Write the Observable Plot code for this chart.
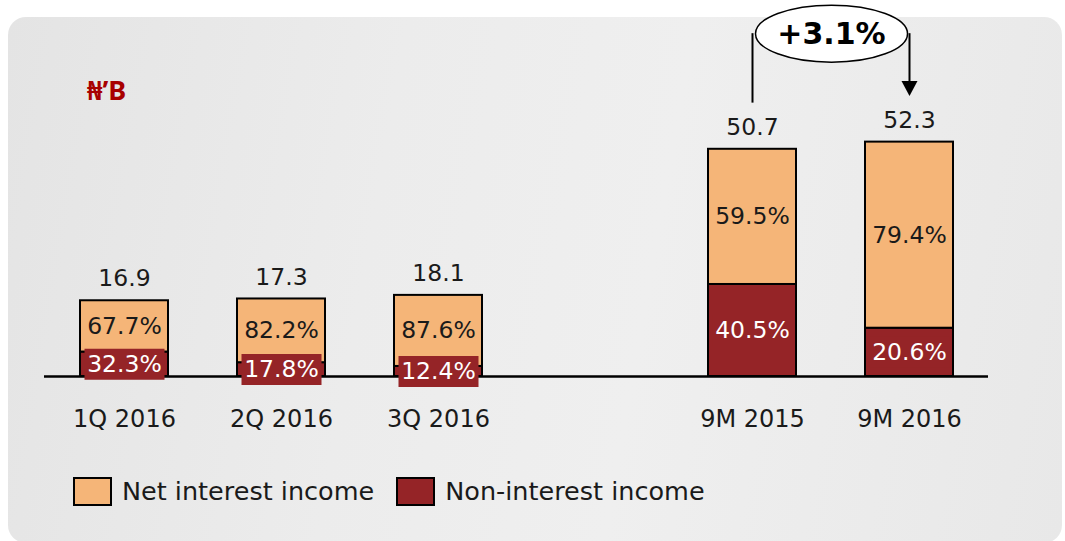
<!DOCTYPE html>
<html>
<head>
<meta charset="utf-8">
<script src="https://cdn.jsdelivr.net/npm/d3@7"></script>
<script src="https://cdn.jsdelivr.net/npm/@observablehq/plot@0.6"></script>
<style>
  html, body { margin: 0; padding: 0; background: #ffffff; }
  #wrap { position: relative; width: 1065px; height: 541px; overflow: hidden; font-family: "DejaVu Sans", sans-serif; }
  #panel { position: absolute; left: 8px; top: 17px; width: 1054px; height: 526px; border-radius: 18px;
           background: linear-gradient(100deg, #e4e4e4 0%, #ececec 35%, #efefef 60%, #e8e8e8 100%); }
  #unit { position: absolute; left: 87px; top: 76px; font-family: "Noto Sans", "DejaVu Sans", sans-serif;
          font-weight: bold; font-size: 27px; color: #a80000; line-height: 1; }
  #chart { position: absolute; left: 0; top: 0; }
  #legend { position: absolute; left: 73px; top: 476px; display: flex; align-items: center; font-size: 25.5px; color: #1a1a1a; }
  .sw { width: 39px; height: 29px; box-sizing: border-box; border: 2px solid #000; margin-right: 10px; }
  .item { display: flex; align-items: center; margin-right: 22px; }
</style>
</head>
<body>
<div id="wrap">
  <div id="panel"></div>
  <div id="chart"></div>
  <div id="unit"></div>
  <div id="legend"></div>
</div>
<script>
// ---- data ----
const categories = ["1Q 2016", "2Q 2016", "3Q 2016", "9M 2015", "9M 2016"];
const totals = [16.9, 17.3, 18.1, 50.7, 52.3];
const netInterestPct = [67.7, 82.2, 87.6, 59.5, 79.4];
const nonInterestPct = [32.3, 17.8, 12.4, 40.5, 20.6];
const seriesNames = ["Net interest income", "Non-interest income"];
const seriesColors = ["#F5B578", "#952427"];
const unitLabel = "₦’B";
const growthLabel = "+3.1%";
const growthFrom = "9M 2015";
const growthTo = "9M 2016";

// ---- derived tables ----
const gap = " ";
const xDomain = [...categories.slice(0, 3), gap, ...categories.slice(3)];
const rows = [];
categories.forEach((c, i) => {
  rows.push({cat: c, series: seriesNames[1], pct: nonInterestPct[i], value: totals[i] * nonInterestPct[i] / 100});
  rows.push({cat: c, series: seriesNames[0], pct: netInterestPct[i], value: totals[i] * netInterestPct[i] / 100});
});
const totalRows = categories.map((c, i) => ({cat: c, total: totals[i]}));
const nonRows = rows.filter(d => d.series === seriesNames[1]);

const totalOf = c => totals[categories.indexOf(c)];
const bracketTop = 76.5;
const bracketGap = 10.3;

// custom symbols
const boxSymbol = {draw(ctx) { ctx.rect(-40, -15.5, 80, 31); }};
const ellipseSymbol = {draw(ctx) {
  const rx = 76, ry = 28.5, k = 0.5523;
  ctx.moveTo(-rx, 0);
  ctx.bezierCurveTo(-rx, -ry * k, -rx * k, -ry, 0, -ry);
  ctx.bezierCurveTo(rx * k, -ry, rx, -ry * k, rx, 0);
  ctx.bezierCurveTo(rx, ry * k, rx * k, ry, 0, ry);
  ctx.bezierCurveTo(-rx * k, ry, -rx, ry * k, -rx, 0);
  ctx.closePath();
}};
const arrowHead = {draw(ctx) { ctx.moveTo(-8, -15); ctx.lineTo(8, -15); ctx.lineTo(0, 0); ctx.closePath(); }};

const chart = Plot.plot({
  width: 1065,
  height: 450,
  marginLeft: 44,
  marginRight: 77,
  marginTop: 0,
  marginBottom: 74,
  style: {background: "transparent", fontFamily: "DejaVu Sans, sans-serif", fontSize: "23px", color: "#1a1a1a", overflow: "visible"},
  x: {domain: xDomain, paddingInner: 0.44, paddingOuter: 0.223, axis: null},
  y: {domain: [0, 83.9], axis: null},
  color: {domain: seriesNames, range: seriesColors},
  marks: [
    Plot.barY(rows, {x: "cat", y: "value", fill: "series", stroke: "#000", strokeWidth: 2}),
    Plot.ruleY([0], {stroke: "#000", strokeWidth: 2.5}),
    Plot.dot(nonRows, Plot.stackY({x: "cat", y: "value", symbol: boxSymbol, fill: seriesColors[1], stroke: "none"})),
    Plot.text(rows, Plot.stackY({x: "cat", y: "value", text: d => d.pct.toFixed(1) + "%",
      fill: d => d.series === seriesNames[0] ? "#1a1a1a" : "#ffffff", fontSize: 23.5})),
    Plot.text(totalRows, {x: "cat", y: "total", text: d => d.total.toFixed(1), dy: -22, fill: "#1a1a1a", fontSize: 23.5}),
    Plot.text(categories, {x: d => d, frameAnchor: "bottom", dy: 50, fill: "#1a1a1a", fontSize: 24}),
    // growth annotation
    Plot.ruleX([growthFrom], {x: d => d, y1: d => totalOf(d) + bracketGap, y2: bracketTop, stroke: "#000", strokeWidth: 2}),
    Plot.ruleX([growthTo], {x: d => d, y1: d => totalOf(d) + bracketGap + 2, y2: bracketTop, stroke: "#000", strokeWidth: 2}),
    Plot.dot([growthTo], {x: d => d, y: d => totalOf(d) + bracketGap, symbol: arrowHead, fill: "#000", stroke: "none"}),
    Plot.dot([growthTo], {x: d => d, y: bracketTop, dx: -78, symbol: ellipseSymbol, fill: "#fff", stroke: "#000", strokeWidth: 1.5}),
    Plot.text([growthLabel], {x: () => growthTo, y: bracketTop, dx: -78, dy: 1, text: d => d, fontWeight: "bold", fontSize: 30, fill: "#000"})
  ]
});
document.getElementById("chart").appendChild(chart);
document.getElementById("unit").textContent = unitLabel;

const legend = document.getElementById("legend");
seriesNames.forEach((s, i) => {
  const item = document.createElement("div");
  item.className = "item";
  const sw = document.createElement("div");
  sw.className = "sw";
  sw.style.background = seriesColors[i];
  const t = document.createElement("span");
  t.textContent = s;
  item.appendChild(sw);
  item.appendChild(t);
  legend.appendChild(item);
});
</script>
</body>
</html>
